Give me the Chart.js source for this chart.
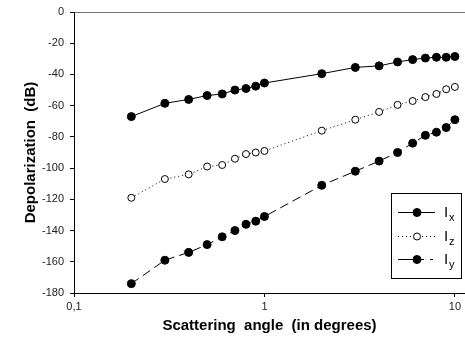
<!DOCTYPE html>
<html>
<head>
<meta charset="utf-8">
<script src="https://cdn.jsdelivr.net/npm/chart.js@4/dist/chart.umd.min.js"></script>
<style>
  html, body { margin: 0; padding: 0; background: #fff; overflow: hidden; }
</style>
</head>
<body>
<canvas id="c" width="465" height="342"></canvas>
<script>
// ---- data ----
const angles = [0.2, 0.3, 0.4, 0.5, 0.6, 0.7, 0.8, 0.9, 1, 2, 3, 4, 5, 6, 7, 8, 9, 10];
const ix = [-67, -58.5, -56, -53.5, -52.5, -50, -49, -47.5, -45.5, -39.5, -35.5, -34.5, -32, -30.5, -29.5, -29, -29, -28.5];
const iz = [-119, -107, -104, -99, -98, -94, -91, -90, -89, -76, -69, -64, -59.5, -57, -54.5, -52.5, -49.5, -48];
const iy = [-174, -159, -154, -149, -144, -140, -136, -134, -131, -111, -102, -95.5, -90, -84, -79, -77, -74, -69];
const seriesNames = ['x', 'z', 'y'];
const xTickValues = [0.1, 1, 10];
const xTickLabels = ['0,1', '1', '10'];
const yTickValues = [-180, -160, -140, -120, -100, -80, -60, -40, -20, 0];

function pts(ys) { return angles.map((a, i) => ({ x: a, y: ys[i] })); }

const legendPlugin = {
  id: 'boxLegend',
  afterDraw(chart) {
    const ctx = chart.ctx;
    const bx = 391, by = 193, bw = 70, bh = 85;
    ctx.save();
    ctx.fillStyle = '#fff';
    ctx.fillRect(bx, by, bw, bh);
    ctx.strokeStyle = '#000';
    ctx.lineWidth = 1;
    ctx.setLineDash([]);
    ctx.strokeRect(bx + 0.5, by + 0.5, bw, bh);
    const rows = [212, 236, 259];
    chart.data.datasets.forEach((ds, i) => {
      const y = rows[i];
      ctx.strokeStyle = '#000';
      ctx.lineWidth = 1;
      ctx.setLineDash(ds.legendDash || []);
      ctx.beginPath();
      ctx.moveTo(398, y + 0.5);
      ctx.lineTo(435, y + 0.5);
      ctx.stroke();
      ctx.setLineDash([]);
      ctx.beginPath();
      ctx.arc(417, y + 0.5, ds.pointRadius, 0, Math.PI * 2);
      ctx.fillStyle = ds.pointBackgroundColor;
      ctx.fill();
      ctx.strokeStyle = '#000';
      ctx.stroke();
      ctx.fillStyle = '#000';
      ctx.textBaseline = 'alphabetic';
      ctx.textAlign = 'left';
      ctx.font = '15px "Liberation Sans", Arial, sans-serif';
      ctx.fillText('I', 444, y + 5);
      ctx.font = '11px "Liberation Sans", Arial, sans-serif';
      ctx.fillText(seriesNames[i], 449, y + 9);
    });
    ctx.restore();
  }
};

const font = '"Liberation Sans", Arial, sans-serif';

new Chart(document.getElementById('c'), {
  type: 'line',
  data: {
    datasets: [
      { label: 'Ix', data: pts(ix), borderColor: '#000', borderWidth: 1, borderDash: [], legendDash: [],
        pointRadius: 4, pointBackgroundColor: '#000', pointBorderColor: '#000', pointBorderWidth: 1 },
      { label: 'Iz', data: pts(iz), borderColor: '#000', borderWidth: 1, borderDash: [1, 3], legendDash: [1, 3],
        pointRadius: 3.5, pointBackgroundColor: '#fff', pointBorderColor: '#000', pointBorderWidth: 1 },
      { label: 'Iy', data: pts(iy), borderColor: '#000', borderWidth: 1, borderDash: [9, 5], legendDash: [26, 6, 3, 10],
        pointRadius: 4, pointBackgroundColor: '#000', pointBorderColor: '#000', pointBorderWidth: 1 }
    ]
  },
  options: {
    responsive: false,
    animation: false,
    devicePixelRatio: 1,
    layout: { autoPadding: false, padding: { top: 12, right: 0, left: 0, bottom: 0 } },
    plugins: { legend: { display: false }, tooltip: { enabled: false }, title: { display: false } },
    elements: { line: { tension: 0 } },
    scales: {
      x: {
        type: 'logarithmic',
        min: 0.1,
        max: 11.3,
        afterBuildTicks(scale) { scale.ticks = xTickValues.map(v => ({ value: v })); },
        afterFit(scale) { scale.height = 49; scale.paddingLeft = 0; scale.paddingRight = 0; },
        ticks: {
          autoSkip: false, maxRotation: 0, padding: 3, color: '#222',
          font: { family: font, size: 11 },
          callback(v) { const i = xTickValues.indexOf(v); return i >= 0 ? xTickLabels[i] : ''; }
        },
        grid: { drawOnChartArea: false, drawTicks: true, tickLength: 4, tickColor: '#000' },
        border: { display: true, color: '#000', width: 1 },
        title: { display: true, text: 'Scattering  angle  (in degrees)', color: '#000',
          font: { family: font, size: 15, weight: 'bold' }, padding: { top: 0, bottom: 7 } }
      },
      y: {
        type: 'linear',
        min: -180,
        max: 0,
        afterBuildTicks(scale) { scale.ticks = yTickValues.map(v => ({ value: v })); },
        afterFit(scale) { scale.width = 74; scale.paddingTop = 0; scale.paddingBottom = 0; },
        ticks: { padding: 6, color: '#222', font: { family: font, size: 11 } },
        grid: {
          drawOnChartArea: true, drawTicks: true, tickLength: 4, tickColor: '#000',
          color(ctx) { return ctx.tick && ctx.tick.value === 0 ? '#777' : 'rgba(0,0,0,0)'; }
        },
        border: { display: true, color: '#000', width: 1 },
        title: { display: true, text: 'Depolarization  (dB)', color: '#000',
          font: { family: font, size: 15, weight: 'bold' }, padding: { top: 22, bottom: 0 } }
      }
    }
  },
  plugins: [legendPlugin]
});
</script>
</body>
</html>
